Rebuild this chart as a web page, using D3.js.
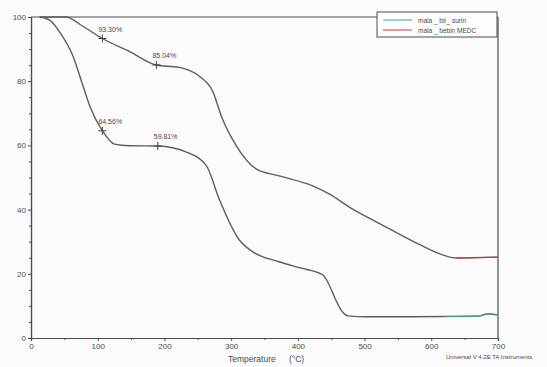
<!DOCTYPE html>
<html>
<head>
<meta charset="utf-8">
<script src="https://cdn.jsdelivr.net/npm/d3@7"></script>
<style>
  html, body { margin: 0; padding: 0; background: #fbfbfd; }
  svg { display: block; }
  text { font-family: "Liberation Sans", Arial, sans-serif; fill: #4a4a4a; }
</style>
</head>
<body>
<svg id="chart" width="547" height="367"></svg>
<script>
// TGA curves: weight (%) versus temperature (°C)
const seriesNames = ["mala _ bir_ surin", "mala _ bebin MEDC"];
const seriesColors = ["#3aa88c", "#d23a3a"];

// lower curve (first series)
const tempB = [13, 28, 43, 63, 78, 88, 107, 125, 148, 190, 233, 263, 282, 312, 332, 372, 402, 437, 467, 475, 503, 553, 620, 673, 683, 700];
const massB = [100, 99, 95.3, 87.8, 78.5, 72.3, 64.56, 60.4, 59.9, 59.81, 57.9, 53.6, 43.3, 30.6, 26.9, 23.75, 21.9, 19.7, 8.1, 6.9, 6.6, 6.6, 6.7, 6.9, 7.5, 7.2];

// upper curve (second series)
const tempA = [13, 52, 77, 107, 148, 188, 222, 252, 272, 287, 308, 338, 372, 422, 447, 477, 524, 572, 613, 638, 660, 700];
const massA = [100, 100, 97.2, 93.3, 89.2, 85.04, 84.3, 81.6, 77.0, 68.2, 59.8, 52.6, 50.5, 47.4, 44.9, 40.8, 35.5, 30.2, 26.2, 24.9, 25.0, 25.2];

// annotated step values
const markTemps = [107, 188, 107, 190];
const markValues = [93.30, 85.04, 64.56, 59.81];

const xTicks = [0, 100, 200, 300, 400, 500, 600, 700];
const yTicks = [0, 20, 40, 60, 80, 100];

const svg = d3.select("#chart");
const x = d3.scaleLinear().domain([0, 700]).range([31, 498]);
const y = d3.scaleLinear().domain([0, 100]).range([338, 17]);
const axisColor = "#4d4d4d";
const curveGray = "#5e5e5e";

// frame: top and right borders
svg.append("line").attr("x1", x(0)).attr("x2", x(700)).attr("y1", y(100)).attr("y2", y(100))
  .attr("stroke", axisColor).attr("stroke-width", 1.2);
svg.append("line").attr("x1", x(700)).attr("x2", x(700)).attr("y1", y(100)).attr("y2", y(0))
  .attr("stroke", axisColor).attr("stroke-width", 1.2);

// axes
const xAxis = d3.axisBottom(x).tickValues(xTicks).tickSize(3).tickPadding(2).tickFormat(d3.format("d"));
svg.append("g").attr("transform", `translate(0,${y(0)})`).call(xAxis);
const xMinor = d3.axisBottom(x).tickValues(d3.range(50, 700, 100)).tickSize(2).tickFormat("");
svg.append("g").attr("transform", `translate(0,${y(0)})`).call(xMinor);

const yAxis = d3.axisLeft(y).tickValues(yTicks).tickSize(3).tickPadding(2).tickFormat(d3.format("d"));
svg.append("g").attr("transform", `translate(${x(0)},0)`).call(yAxis);
const yMinor = d3.axisLeft(y).tickValues(d3.range(5, 100, 5).filter(v => v % 20 !== 0)).tickSize(2).tickFormat("");
svg.append("g").attr("transform", `translate(${x(0)},0)`).call(yMinor);

svg.selectAll(".domain").attr("stroke", axisColor).attr("stroke-width", 1.2);
svg.selectAll(".tick line").attr("stroke", axisColor);
svg.selectAll(".tick text").attr("font-size", 8).attr("fill", "#4a4a4a")
  .attr("font-family", "Liberation Sans, Arial, sans-serif");

// curves
const line = d3.line().x(d => x(d[0])).y(d => y(d[1])).curve(d3.curveMonotoneX);
const ptsB = tempB.map((t, i) => [t, massB[i]]);
const ptsA = tempA.map((t, i) => [t, massA[i]]);

svg.append("path").attr("d", line(ptsB)).attr("fill", "none")
  .attr("stroke", curveGray).attr("stroke-width", 1.4);
svg.append("path").attr("d", line(ptsA)).attr("fill", "none")
  .attr("stroke", curveGray).attr("stroke-width", 1.4);

// coloured tails where the series colours show through
svg.append("path").attr("d", line(ptsB.filter(p => p[0] >= 620))).attr("fill", "none")
  .attr("stroke", seriesColors[0]).attr("stroke-width", 1.2).attr("opacity", 0.8);
svg.append("path").attr("d", line(ptsA.filter(p => p[0] >= 638))).attr("fill", "none")
  .attr("stroke", seriesColors[1]).attr("stroke-width", 1.2).attr("opacity", 0.85);

// step markers and labels
markTemps.forEach((t, i) => {
  const cx = x(t), cy = y(markValues[i]);
  svg.append("path").attr("d", `M${cx - 4},${cy}H${cx + 4}M${cx},${cy - 4}V${cy + 4}`)
    .attr("stroke", "#444").attr("stroke-width", 1);
  svg.append("text").attr("x", cx - 4).attr("y", cy - 7)
    .attr("font-size", 7).attr("fill", "#666").text(markValues[i].toFixed(2) + "%");
});

// legend
const lg = svg.append("g");
lg.append("rect").attr("x", 377).attr("y", 12).attr("width", 120).attr("height", 25)
  .attr("fill", "#fdfdfd").attr("stroke", axisColor).attr("stroke-width", 1);
seriesNames.forEach((name, i) => {
  const ly = 20 + i * 10;
  lg.append("line").attr("x1", 383).attr("x2", 412).attr("y1", ly).attr("y2", ly)
    .attr("stroke", seriesColors[i]).attr("stroke-width", 1);
  lg.append("text").attr("x", 418).attr("y", ly + 2.5).attr("font-size", 6.5)
    .attr("fill", i === 0 ? "#4a7a4a" : "#b03a4a").text(name);
});

// axis title and instrument note
svg.append("text").attr("x", 228).attr("y", 362).attr("font-size", 8.5).text("Temperature");
svg.append("text").attr("x", 289).attr("y", 362).attr("font-size", 8.5).text("(°C)");
svg.append("text").attr("x", 446).attr("y", 359).attr("font-size", 6).text("Universal V 4.2E TA Instruments");
</script>
</body>
</html>
